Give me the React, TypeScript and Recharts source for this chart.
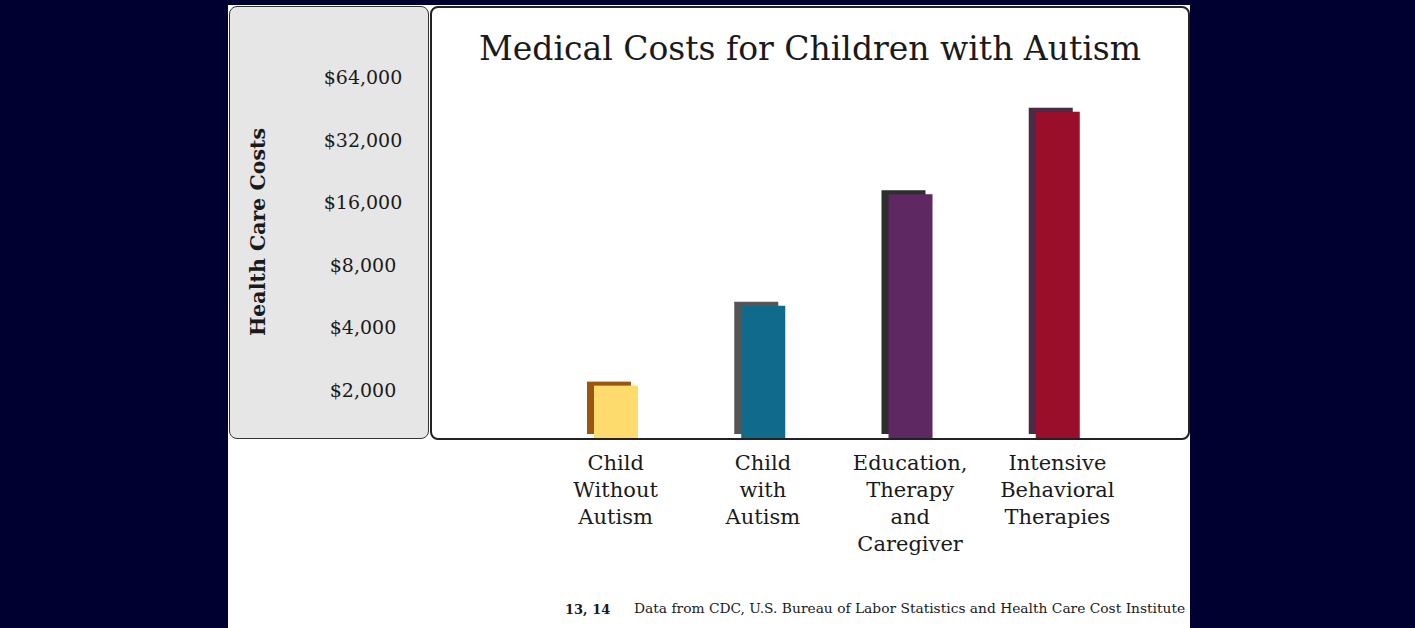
import { BarChart, Bar, XAxis, YAxis, Label } from 'recharts';

const categories = ['Child Without Autism', 'Child with Autism', 'Education, Therapy and Caregiver', 'Intensive Behavioral Therapies'];
const costs = [2100, 5100, 17600, 44000];
const yTicks = [2000, 4000, 8000, 16000, 32000, 64000];

const data = categories.map((name, i) => ({ name, cost: costs[i] }));

// styling only
const barColors = ['#fddb6d', '#0f6a8b', '#5e2962', '#9b0e2b'];
const shadowColors = ['#9a560f', '#555555', '#2e2e2e', '#4b2a44'];
const FONT = '"DejaVu Serif", serif';

const ShadowBar = (props: any) => {
    const { x, y, width, height, index } = props;
    return (
        <g>
            <rect x={x - 7} y={y - 4} width={width} height={height} fill={shadowColors[index]} />
            <rect x={x} y={y} width={width} height={height} fill={barColors[index]} />
        </g>
    );
};

const YTick = (props: any) => {
    const { y, payload } = props;
    return (
        <text x={135} y={y} dy={6.5} textAnchor="middle" fontFamily={FONT} fontSize={19} fill="#1a1a1a">
            ${payload.value.toLocaleString('en-US')}
        </text>
    );
};

const XTick = (props: any) => {
    const { x, y, payload } = props;
    const words = String(payload.value).split(' ');
    return (
        <text x={x} y={y} textAnchor="middle" fontFamily={FONT} fontSize={21} fill="#1a1a1a">
            {words.map((w, i) => (
                <tspan key={i} x={x} dy={i === 0 ? 24 : 27}>{w}</tspan>
            ))}
        </text>
    );
};

export default function App() {
    return (
        <div style={{ position: 'absolute', left: 0, top: 0, width: 1415, height: 628, background: '#000030', overflow: 'hidden' }}>
            {/* white panel */}
            <div style={{ position: 'absolute', left: 228, top: 5, width: 962, height: 623, background: '#ffffff' }} />
            {/* grey y-axis panel */}
            <div style={{ position: 'absolute', left: 229, top: 6, width: 200, height: 433, background: '#e6e6e6', border: '1.5px solid #333', borderRadius: 8, boxSizing: 'border-box' }} />
            {/* chart box */}
            <div style={{ position: 'absolute', left: 430, top: 6, width: 760, height: 434, background: '#ffffff', border: '2px solid #222', borderRadius: 8, boxSizing: 'border-box' }} />
            <div style={{ position: 'absolute', left: 430, top: 29, width: 760, textAlign: 'center', fontFamily: FONT, fontSize: 33, color: '#1a1a1a', whiteSpace: 'nowrap' }}>
                Medical Costs for Children with Autism
            </div>
            <div style={{ position: 'absolute', left: 228, top: 0 }}>
                <BarChart width={962} height={628} data={data} margin={{ top: 40, right: 59, bottom: 60, left: 0 }}>
                    <XAxis dataKey="name" interval={0} axisLine={false} tickLine={false} height={130} tick={<XTick />} />
                    <YAxis
                        type="number"
                        scale="log"
                        domain={[1174, 97600]}
                        ticks={yTicks}
                        allowDataOverflow
                        width={314}
                        axisLine={false}
                        tickLine={false}
                        tick={<YTick />}
                    >
                        <Label
                            content={() => (
                                <text x={30} y={232} transform="rotate(-90 30 232)" textAnchor="middle" dominantBaseline="central" fontFamily={FONT} fontWeight="bold" fontSize={20.5} fill="#1a1a1a">
                                    Health Care Costs
                                </text>
                            )}
                        />
                    </YAxis>
                    <Bar dataKey="cost" barSize={44} shape={<ShadowBar />} isAnimationActive={false} />
                </BarChart>
            </div>
            <div style={{ position: 'absolute', left: 565, top: 602, fontFamily: FONT, fontWeight: 'bold', fontSize: 13, color: '#1a1a1a' }}>13, 14</div>
            <div style={{ position: 'absolute', left: 634, top: 600, fontFamily: FONT, fontSize: 13.8, color: '#1a1a1a', whiteSpace: 'nowrap' }}>
                Data from CDC, U.S. Bureau of Labor Statistics and Health Care Cost Institute
            </div>
        </div>
    );
}
